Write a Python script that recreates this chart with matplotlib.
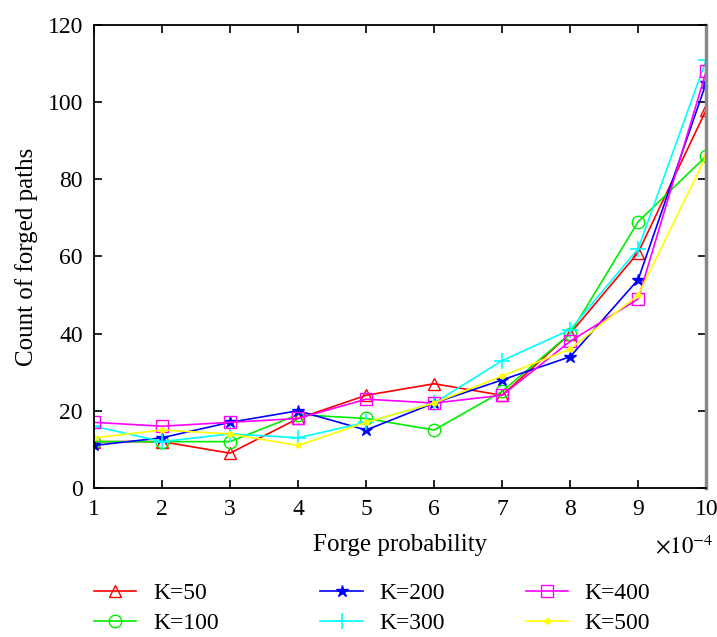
import numpy as np
import matplotlib.pyplot as plt

plt.rcParams['font.family'] = ['Liberation Serif', 'DejaVu Serif']
plt.rcParams['mathtext.fontset'] = 'stix'

## the data
prob = [1, 2, 3, 4, 5, 6, 7, 8, 9, 10]
k50 = [12, 12, 9, 18, 24, 27, 24, 40, 61, 98]
k100 = [12, 12, 12, 19, 18, 15, 25, 40, 69, 86]
k200 = [11, 13, 17, 20, 15, 22, 28, 34, 54, 105]
k300 = [16, 12, 14, 13, 17, 22, 33, 41, 62, 111]
k400 = [17, 16, 17, 18, 23, 22, 24, 38, 49, 108]
k500 = [13, 15, 14, 11, 17, 22, 29, 36, 50, 86]

fig = plt.figure(figsize=(7.17, 6.37), dpi=100)
ax = fig.add_axes([0.131, 0.234, 0.854, 0.727])

lw = 1.2
l1, = ax.plot(prob, k50, color='red', marker='^', mfc='none', ms=9, lw=lw, label='K=50')
l2, = ax.plot(prob, k100, color='#00ee00', marker='o', mfc='none', ms=9, lw=lw, label='K=100')
l3, = ax.plot(prob, k200, color='blue', marker='*', ms=9, lw=lw, label='K=200')
l4, = ax.plot(prob, k300, color='cyan', marker='+', ms=11, mew=1.2, lw=lw, label='K=300')
l5, = ax.plot(prob, k400, color='magenta', marker='s', mfc='none', ms=8, lw=lw, label='K=400')
l6, = ax.plot(prob, k500, color='yellow', marker='.', ms=7, lw=lw, label='K=500')

# axes and labels
ax.set_xlim(1, 10)
ax.set_ylim(0, 120)
ax.set_xticks(prob)
ax.set_yticks(np.arange(0, 121, 20))
ax.tick_params(direction='in', top=True, right=True, labelsize=17, length=6, width=1.2, pad=8)
for s in ax.spines.values():
    s.set_linewidth(1.3)
ax.spines['right'].set_color('#888888')
ax.spines['right'].set_linewidth(2.5)

ax.set_xlabel('Forge probability', fontsize=18)
ax.xaxis.set_label_coords(0.5, -0.099)
ax.set_ylabel('Count of forged paths', fontsize=18)
ax.yaxis.set_label_coords(-0.092, 0.5)
fig.text(0.9135, 0.141, r'$\times10^{-4}$', fontsize=16.5, va='center', ha='left')

# legend: three columns of two entries
for hs, x0 in [((l1, l2), 0.131), ((l3, l4), 0.447), ((l5, l6), 0.733)]:
    leg = fig.legend(handles=list(hs), loc='upper left', bbox_to_anchor=(x0, 0.085),
                     frameon=False, fontsize=17, handlelength=1.8, labelspacing=0.34,
                     handletextpad=0.7, borderpad=0.0, borderaxespad=0.0)

fig.savefig('out.png', dpi=100)
